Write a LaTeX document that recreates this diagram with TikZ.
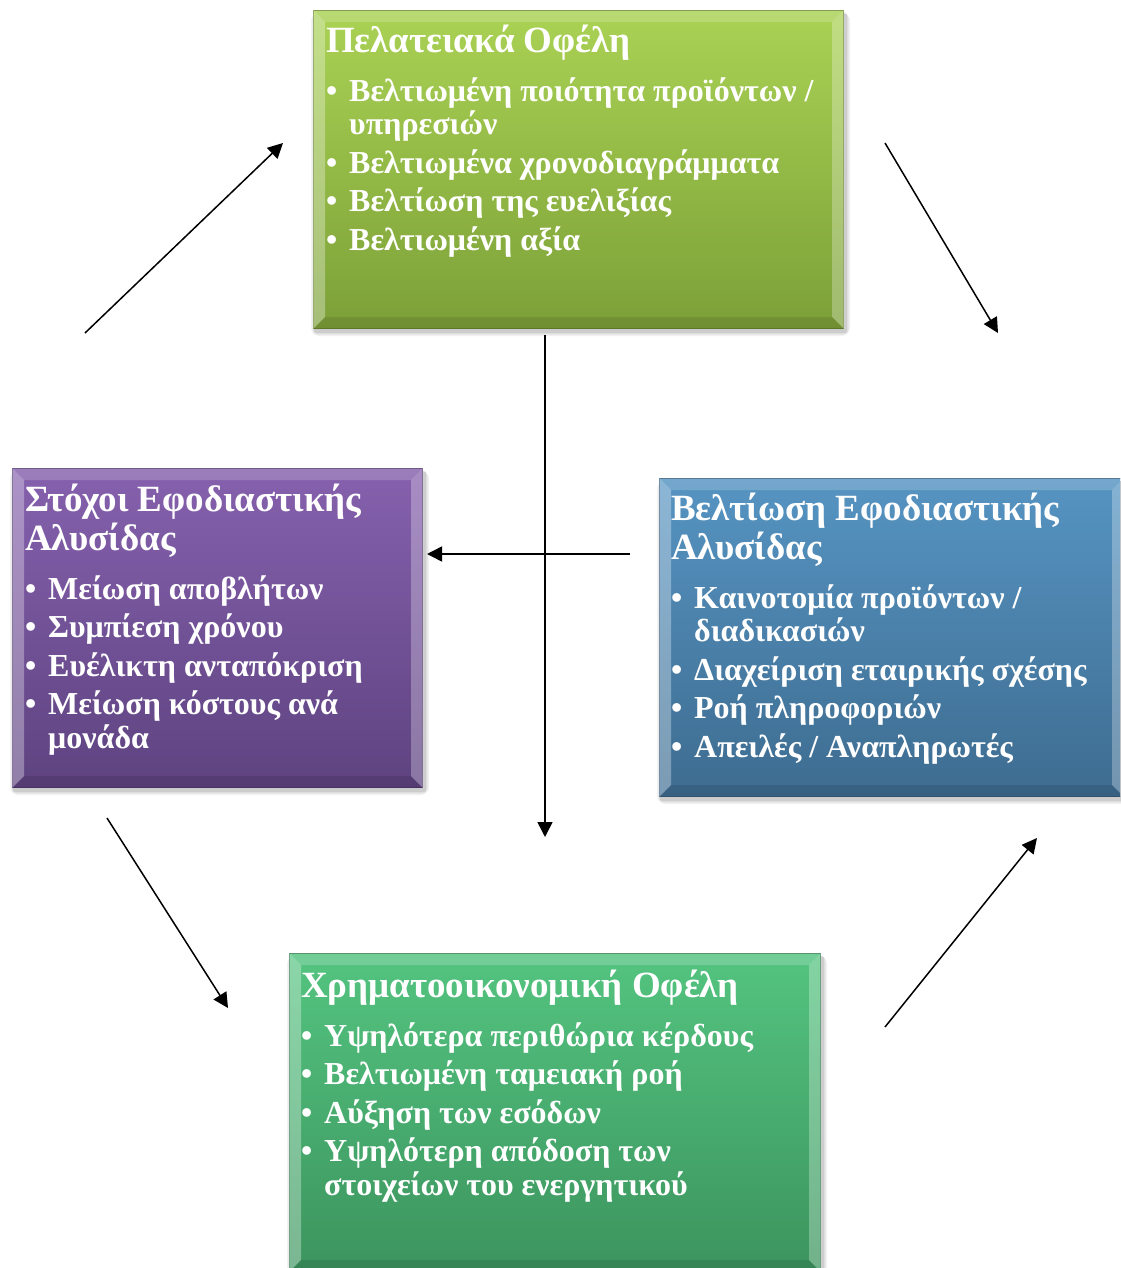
\documentclass[tikz,border=0pt]{standalone}
\usepackage{fontspec}
\setmainfont{Liberation Serif}
\usetikzlibrary{arrows.meta,calc,backgrounds}

% colours of the four panels (top / bottom of the vertical gradient, edge)
\definecolor{grnT}{RGB}{170,210,84}
\definecolor{grnB}{RGB}{124,160,56}
\definecolor{grnE}{RGB}{104,134,46}
\definecolor{purT}{RGB}{134,97,174}
\definecolor{purB}{RGB}{94,67,128}
\definecolor{purE}{RGB}{80,56,110}
\definecolor{bluT}{RGB}{86,148,194}
\definecolor{bluB}{RGB}{62,108,144}
\definecolor{bluE}{RGB}{52,92,124}
\definecolor{emeT}{RGB}{84,196,128}
\definecolor{emeB}{RGB}{60,148,94}
\definecolor{emeE}{RGB}{48,124,78}

% panel title and bullet items
\newcommand\paneltitle[1]{{\fontsize{37}{39}\selectfont\spaceskip=0pt\xspaceskip=0pt\rule{0pt}{30pt}#1\par}}
\newcommand\itemfont{\fontsize{32}{33.5}\selectfont\spaceskip=0pt\xspaceskip=0pt\parskip=5pt\relax}
\newcommand\itm[1]{\par\noindent\makebox[23pt][l]{•}#1}
\newcommand\cont[1]{\par\vspace{-5pt}\noindent\hspace*{23pt}#1}

% bevelled rim of a panel: #1 node name
\newcommand\bevel[1]{%
  \fill[white,opacity=0.32] (#1.north west) -- (#1.south west) -- ($(#1.south west)+(12,-12)$) -- ($(#1.north west)+(12,12)$) -- cycle;
  \fill[white,opacity=0.18] (#1.north west) -- (#1.north east) -- ($(#1.north east)+(-12,12)$) -- ($(#1.north west)+(12,12)$) -- cycle;
  \fill[white,opacity=0.28] (#1.north east) -- (#1.south east) -- ($(#1.south east)+(-12,-12)$) -- ($(#1.north east)+(-12,12)$) -- cycle;
  \fill[black,opacity=0.10] (#1.south west) -- (#1.south east) -- ($(#1.south east)+(-12,-12)$) -- ($(#1.south west)+(12,-12)$) -- cycle;
}
% soft shadow under a panel
\newcommand\softshadow[1]{%
  \foreach \s/\o in {8/0.05,5/0.07,2/0.09}{
    \fill[black,opacity=\o,rounded corners=\s pt] ($(#1.north west)+(2-\s/2,3)$) rectangle ($(#1.south east)+(2+\s/2,3+\s/2)$);
  }%
}

\begin{document}
\begin{tikzpicture}[x=1pt,y=-1pt,
  panel/.style={draw=#1E, line width=1pt, inner sep=0pt, anchor=north west,
                top color=#1T, bottom color=#1B},
  paneltext/.style={anchor=north west, inner sep=0pt, text=white,
                    font=\bfseries, text width=600pt, align=left},
  arr/.style={draw=black, line width=1.5pt, -{Triangle[length=15pt,width=15pt]}}]

\useasboundingbox (0,0) rectangle (1120,1268);
\clip (0,0) rectangle (1120,1268);

% ---------- panels ----------
\node[panel=grn, minimum width=530pt, minimum height=318pt] (cust) at (313,10) {};
\node[panel=pur, minimum width=410pt, minimum height=319pt] (goal) at (12,468) {};
\node[panel=blu, minimum width=464pt, minimum height=318pt] (impr) at (659,478) {};
\node[panel=eme, minimum width=531pt, minimum height=318pt] (fin) at (289,953) {};

\begin{scope}[on background layer]
  \softshadow{cust}
  \softshadow{goal}
  \softshadow{impr}
  \softshadow{fin}
\end{scope}

\bevel{cust}
\bevel{goal}
\bevel{impr}
\bevel{fin}

% ---------- panel texts ----------
\node[paneltext] (custtext) at (326,22) {%
  \paneltitle{Πελατειακά Οφέλη}\vspace{10.5pt}
  \itemfont
  \itm{Βελτιωμένη ποιότητα προϊόντων /}
  \cont{υπηρεσιών}
  \itm{Βελτιωμένα χρονοδιαγράμματα}
  \itm{Βελτίωση της ευελιξίας}
  \itm{Βελτιωμένη αξία}\par};

\node[paneltext] (goaltext) at (25,481) {%
  \paneltitle{Στόχοι Εφοδιαστικής\\Αλυσίδας}\vspace{10.5pt}
  \itemfont
  \itm{Μείωση αποβλήτων}
  \itm{Συμπίεση χρόνου}
  \itm{Ευέλικτη ανταπόκριση}
  \itm{Μείωση κόστους ανά}
  \cont{μονάδα}\par};

\node[paneltext] (imprtext) at (671,490) {%
  \paneltitle{Βελτίωση Εφοδιαστικής\\Αλυσίδας}\vspace{10.5pt}
  \itemfont
  \itm{Καινοτομία προϊόντων /}
  \cont{διαδικασιών}
  \itm{Διαχείριση εταιρικής σχέσης}
  \itm{Ροή πληροφοριών}
  \itm{Απειλές / Αναπληρωτές}\par};

\node[paneltext] (fintext) at (301,967) {%
  \paneltitle{Χρηματοοικονομική Οφέλη}\vspace{10.5pt}
  \itemfont
  \itm{Υψηλότερα περιθώρια κέρδους}
  \itm{Βελτιωμένη ταμειακή ροή}
  \itm{Αύξηση των εσόδων}
  \itm{Υψηλότερη απόδοση των}
  \cont{στοιχείων του ενεργητικού}\par};

% ---------- arrow end points ----------
\coordinate (a1s) at (85,333);   \coordinate (a1e) at (283,143);
\coordinate (a2s) at (885,143);  \coordinate (a2e) at (998,333);
\coordinate (a3s) at (630,554);  \coordinate (a3e) at (427,554);
\coordinate (a4s) at (545,335);  \coordinate (a4e) at (545,837);
\coordinate (a5s) at (107,818);  \coordinate (a5e) at (228,1008);
\coordinate (a6s) at (885,1027); \coordinate (a6e) at (1037,838);

\draw[arr] (a1s) -- (a1e);
\draw[arr] (a2s) -- (a2e);
\draw[arr] (a3s) -- (a3e);
\draw[arr] (a4s) -- (a4e);
\draw[arr] (a5s) -- (a5e);
\draw[arr] (a6s) -- (a6e);
\end{tikzpicture}
\end{document}
